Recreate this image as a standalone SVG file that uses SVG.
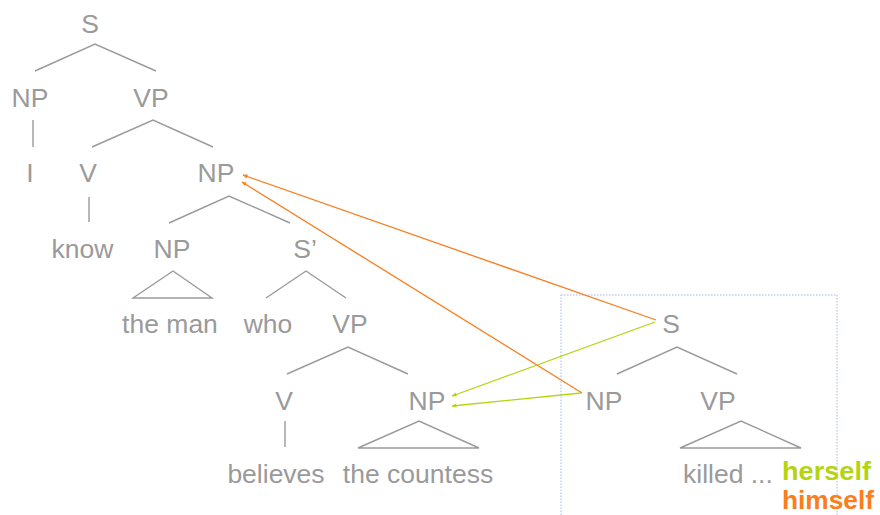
<svg xmlns="http://www.w3.org/2000/svg" width="880" height="515" viewBox="0 0 880 515">
  <style>
    .lbl { font-family: "Liberation Sans", Arial, Helvetica, sans-serif; font-size: 26.5px; fill: #9a9a9a; }
    .c { text-anchor: middle; }
    .br { stroke: #9a9a9a; stroke-width: 1.4; fill: none; }
    .or { stroke: #fa7d1e; stroke-width: 1.3; fill: none; }
    .gr { stroke: #b4d40f; stroke-width: 1.3; fill: none; }
    .bold { font-weight: bold; font-size: 26px; }
  </style>
  <defs>
    <marker id="ah-or" viewBox="0 0 10 10" refX="9" refY="5" markerWidth="5" markerHeight="5" orient="auto" markerUnits="userSpaceOnUse">
      <path d="M0,1 L10,5 L0,9 Z" fill="#fa7d1e"/>
    </marker>
    <marker id="ah-gr" viewBox="0 0 10 10" refX="9" refY="5" markerWidth="5" markerHeight="5" orient="auto" markerUnits="userSpaceOnUse">
      <path d="M0,1 L10,5 L0,9 Z" fill="#b4d40f"/>
    </marker>
  </defs>

  <!-- dotted frame round the embedded clause -->
  <rect id="clause-box" x="561" y="295" width="276" height="230" fill="none" stroke="#9fb9ec" stroke-width="1" stroke-dasharray="1.5,1.5"/>

  <g id="connectors">
    <!-- tree branches -->
    <polyline class="br" points="35,71 95,44 156,71"/>
    <line class="br" x1="33" y1="120" x2="33" y2="147"/>
    <polyline class="br" points="92,147 153,120 213,147"/>
    <line class="br" x1="89" y1="197" x2="89" y2="222"/>
    <polyline class="br" points="169,223 229,196 290,223"/>
    <polygon class="br" points="133,298 173,271 212,298"/>
    <polyline class="br" points="266,298 306,271 346,298"/>
    <polyline class="br" points="287,374 348,347 408,374"/>
    <line class="br" x1="285" y1="421" x2="285" y2="447"/>
    <polygon class="br" points="358,448 419,421 479,448"/>
    <polyline class="br" points="617,374 677,347 737,374"/>
    <polygon class="br" points="680,448 741,421 801,448"/>
    <!-- binding arrows -->
    <line class="or" x1="656" y1="320" x2="243" y2="175" marker-end="url(#ah-or)"/>
    <line class="or" x1="582" y1="393" x2="242" y2="182" marker-end="url(#ah-or)"/>
    <line class="gr" x1="655" y1="322" x2="452" y2="396" marker-end="url(#ah-gr)"/>
    <line class="gr" x1="581" y1="393" x2="452" y2="406" marker-end="url(#ah-gr)"/>
  </g>

  <g id="n-s"><text class="lbl c" x="90" y="33">S</text></g>
  <g id="n-np1"><text class="lbl c" x="30" y="107">NP</text></g>
  <g id="n-vp1"><text class="lbl c" x="151" y="107">VP</text></g>
  <g id="n-i"><text class="lbl c" x="30" y="182">I</text></g>
  <g id="n-v1"><text class="lbl c" x="88" y="182">V</text></g>
  <g id="n-np2"><text class="lbl c" x="216" y="182">NP</text></g>
  <g id="n-know"><text class="lbl c" x="82.5" y="258">know</text></g>
  <g id="n-np3"><text class="lbl c" x="172" y="258">NP</text></g>
  <g id="n-sbar"><text class="lbl c" x="305" y="258">S’</text></g>
  <g id="n-theman"><text class="lbl c" x="170" y="333">the man</text></g>
  <g id="n-who"><text class="lbl c" x="268" y="333">who</text></g>
  <g id="n-vp2"><text class="lbl c" x="350" y="333">VP</text></g>
  <g id="n-v2"><text class="lbl c" x="284" y="410">V</text></g>
  <g id="n-np4"><text class="lbl c" x="427" y="410">NP</text></g>
  <g id="n-believes"><text class="lbl c" x="276" y="483">believes</text></g>
  <g id="n-countess"><text class="lbl c" x="418" y="483">the countess</text></g>
  <g id="n-s2"><text class="lbl c" x="671" y="333">S</text></g>
  <g id="n-np5"><text class="lbl c" x="604" y="410">NP</text></g>
  <g id="n-vp5"><text class="lbl c" x="718" y="410">VP</text></g>
  <g id="n-killed">
    <text class="lbl" x="683" y="483">killed ...</text>
    <text class="lbl bold" x="782" y="480" textLength="89" lengthAdjust="spacingAndGlyphs" style="fill:#b4d40f">herself</text>
    <text class="lbl bold" x="782" y="509" textLength="92" lengthAdjust="spacingAndGlyphs" style="fill:#fa7d1e">himself</text>
  </g>
</svg>
